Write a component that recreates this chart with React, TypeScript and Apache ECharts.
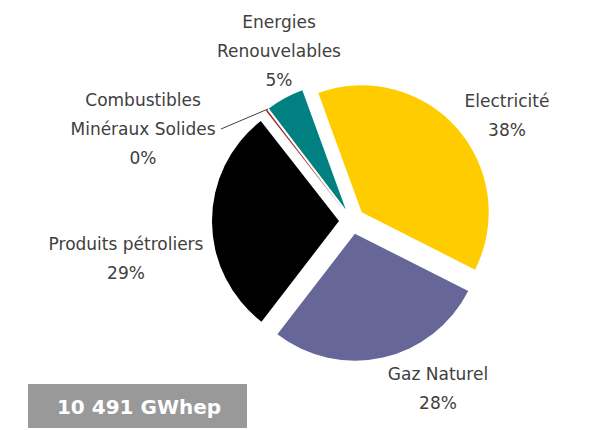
import React, { useEffect, useRef } from "react";
import * as echarts from "echarts";

// Data (GWhep)
const categories = [
  "Electricité",
  "Gaz Naturel",
  "Produits pétroliers",
  "Combustibles\nMinéraux Solides",
  "Energies\nRenouvelables",
];
const values = [3987, 2937, 3042, 21, 504];
const colors = ["#FFCC00", "#666699", "#000000", "#A0282A", "#008080"];
const unit = "GWhep";

// label anchor centres (layout, not data)
const labelPos: [number, number][] = [
  [507, 115],
  [438, 388],
  [126, 258],
  [143, 129],
  [279, 51],
];

function formatTotal(n: number) {
  return String(n).replace(/\B(?=(\d{3})+(?!\d))/g, " ");
}

export default function App() {
  const ref = useRef<HTMLDivElement>(null);
  useEffect(() => {
    if (!ref.current) return;
    const chart = echarts.init(ref.current, null, { renderer: "svg" });
    const total = values.reduce((a, b) => a + b, 0);
    const font = "'DejaVu Sans', sans-serif";
    const labelTexts = categories.map((name, i) => ({
      type: "text",
      x: labelPos[i][0],
      y: labelPos[i][1],
      silent: true,
      style: {
        text: `${name}\n${Math.round((values[i] / total) * 100)}%`,
        fill: "#404040",
        font: `17px ${font}`,
        lineHeight: 29,
        align: "center",
        verticalAlign: "middle",
      },
    }));
    chart.setOption({
      animation: false,
      backgroundColor: "#ffffff",
      graphic: [
        ...labelTexts,
        {
          type: "polyline",
          silent: true,
          shape: { points: [[268, 109], [221, 129]] },
          style: { stroke: "#404040", lineWidth: 1, fill: null },
        },
        {
          type: "rect",
          shape: { x: 28, y: 384, width: 219, height: 44 },
          style: { fill: "#999999" },
        },
        {
          type: "text",
          x: 139,
          y: 407,
          style: {
            text: `${formatTotal(total)} ${unit}`,
            fill: "#ffffff",
            font: `bold 20px ${font}`,
            align: "center",
            verticalAlign: "middle",
          },
        },
      ],
      series: [
        {
          type: "pie",
          center: [352, 221],
          radius: 127,
          startAngle: 110,
          clockwise: true,
          selectedMode: "multiple",
          selectedOffset: 13,
          avoidLabelOverlap: false,
          minAngle: 0,
          emphasis: { disabled: true },
          select: { itemStyle: { borderWidth: 0 } },
          itemStyle: { borderWidth: 0 },
          label: { show: false },
          labelLine: { show: false },
          data: categories.map((name, i) => ({
            name,
            value: values[i],
            selected: true,
            itemStyle: { color: colors[i] },
            select: { itemStyle: { color: colors[i] } },
          })),
        },
      ],
    });
    return () => chart.dispose();
  }, []);
  return (
    <div
      ref={ref}
      style={{ position: "absolute", left: 0, top: 0, width: 594, height: 430 }}
    />
  );
}
